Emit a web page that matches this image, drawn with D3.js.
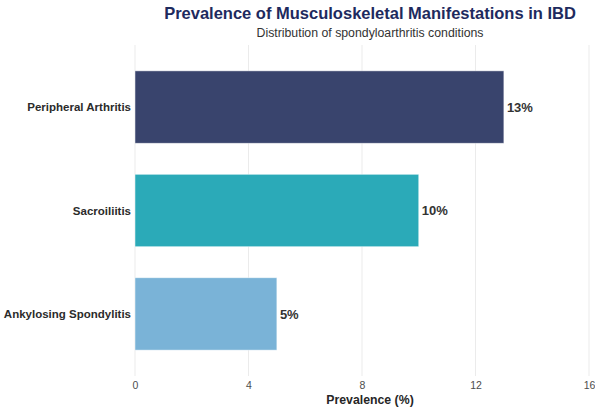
<!DOCTYPE html>
<html>
<head>
<meta charset="utf-8">
<script src="https://cdn.jsdelivr.net/npm/d3@7"></script>
<style>
  html, body { margin: 0; padding: 0; background: #ffffff; }
  svg { display: block; font-family: "Liberation Sans", Arial, sans-serif; }
</style>
</head>
<body>
<svg id="chart" width="595" height="408"></svg>
<script>
// Spondyloarthritis conditions and their prevalence (%)
const conditions = ["Peripheral Arthritis", "Sacroiliitis", "Ankylosing Spondylitis"];
const prevalence = [13, 10, 5];
const barColors = ["#39446D", "#2BAAB8", "#7AB3D7"];
const xTicks = [0, 4, 8, 12, 16];

const svg = d3.select("#chart");
const plot = { left: 135, right: 589, top: 45, bottom: 376 };
const centerX = 370;

const x = d3.scaleLinear().domain([0, 16]).range([plot.left, plot.right]);
const y = d3.scalePoint().domain(conditions).range([plot.top, plot.bottom]).padding(0.6);
const barH = y.step() * 0.7;

// vertical gridlines
svg.append("g")
  .selectAll("line")
  .data(xTicks)
  .join("line")
  .attr("x1", d => x(d)).attr("x2", d => x(d))
  .attr("y1", plot.top).attr("y2", plot.bottom)
  .attr("stroke", "#ebebeb")
  .attr("stroke-width", 1);

// bars
const rows = conditions.map((c, i) => ({ name: c, value: prevalence[i], color: barColors[i] }));
svg.append("g")
  .selectAll("rect")
  .data(rows)
  .join("rect")
  .attr("x", x(0))
  .attr("y", d => y(d.name) - barH / 2)
  .attr("width", d => x(d.value) - x(0))
  .attr("height", barH)
  .attr("fill", d => d.color)
  .attr("stroke", "#ffffff")
  .attr("stroke-opacity", 0.6)
  .attr("stroke-width", 0.8);

// value labels
svg.append("g")
  .selectAll("text")
  .data(rows)
  .join("text")
  .attr("x", d => x(d.value) + 3)
  .attr("y", d => y(d.name))
  .attr("dy", "0.36em")
  .attr("font-size", 13)
  .attr("font-weight", "bold")
  .attr("fill", "#333333")
  .text(d => d.value + "%");

// category axis
const yAxis = svg.append("g")
  .attr("transform", `translate(${plot.left - 4},0)`)
  .call(d3.axisLeft(y).tickSize(0).tickPadding(0));
yAxis.select(".domain").remove();
yAxis.selectAll("text")
  .attr("font-size", 11.5)
  .attr("font-weight", "bold")
  .attr("fill", "#2b2b2b")
  .attr("font-family", "'Liberation Sans', Arial, sans-serif");

// value axis
const xAxis = svg.append("g")
  .attr("transform", `translate(0,${plot.bottom})`)
  .call(d3.axisBottom(x).tickValues(xTicks).tickSize(0).tickPadding(6).tickFormat(d3.format("d")));
xAxis.select(".domain").remove();
xAxis.selectAll("text")
  .attr("font-size", 10.5)
  .attr("fill", "#4d4d4d")
  .attr("font-family", "'Liberation Sans', Arial, sans-serif");

// axis title
svg.append("text")
  .attr("x", centerX)
  .attr("y", 404)
  .attr("text-anchor", "middle")
  .attr("font-size", 12.3)
  .attr("font-weight", "bold")
  .attr("fill", "#262626")
  .text("Prevalence (%)");

// title and subtitle
svg.append("text")
  .attr("x", centerX)
  .attr("y", 19)
  .attr("text-anchor", "middle")
  .attr("font-size", 16.5)
  .attr("font-weight", "bold")
  .attr("fill", "#1E2A5E")
  .text("Prevalence of Musculoskeletal Manifestations in IBD");

svg.append("text")
  .attr("x", centerX)
  .attr("y", 37)
  .attr("text-anchor", "middle")
  .attr("font-size", 12.3)
  .attr("fill", "#333333")
  .text("Distribution of spondyloarthritis conditions");
</script>
</body>
</html>
